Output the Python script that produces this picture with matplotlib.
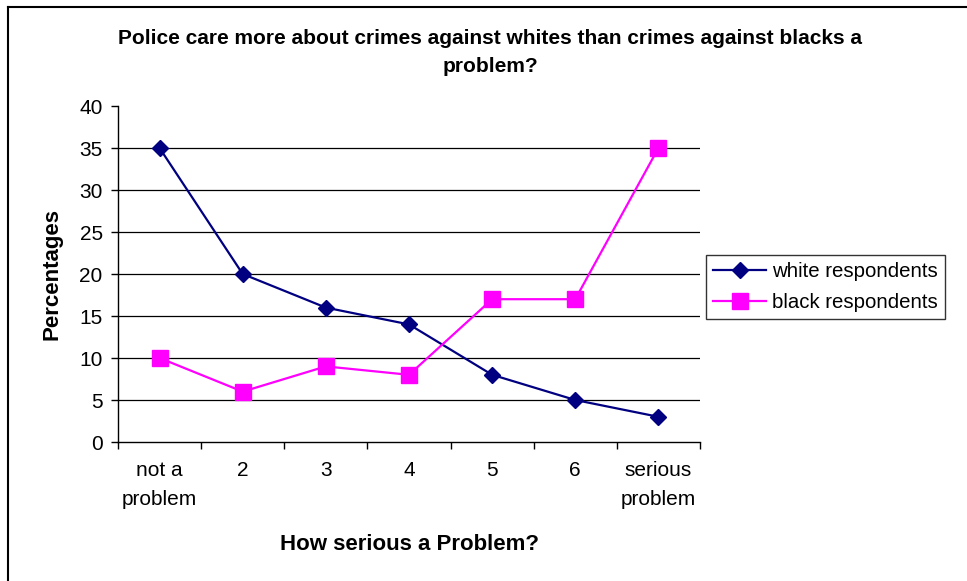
import matplotlib
matplotlib.use("Agg")
import matplotlib.pyplot as plt
from matplotlib.lines import Line2D

categories = ["not a\nproblem", "2", "3", "4", "5", "6", "serious\nproblem"]
white_respondents = [35, 20, 16, 14, 8, 5, 3]
black_respondents = [10, 6, 9, 8, 17, 17, 35]
y_ticks = [0, 5, 10, 15, 20, 25, 30, 35, 40]

plt.rcParams['font.family'] = ['Liberation Sans', 'DejaVu Sans']

fig = plt.figure(figsize=(9.67, 5.81), dpi=100)
W, H = 967, 581
ax = fig.add_axes([118 / W, 1 - 442 / H, (700 - 118) / W, (442 - 106) / H])

x = list(range(len(categories)))
ax.plot(x, white_respondents, color="#000080", lw=1.6, marker="D", ms=8,
        markerfacecolor="#000080", markeredgecolor="#000080", label="white respondents", zorder=3)
ax.plot(x, black_respondents, color="#FF00FF", lw=1.6, marker="s", ms=11,
        markerfacecolor="#FF00FF", markeredgecolor="#FF00FF", label="black respondents", zorder=3)

ax.set_xlim(-0.5, len(categories) - 0.5)
ax.set_ylim(0, 40)
ax.set_yticks(y_ticks)
ax.set_yticklabels([str(v) for v in y_ticks], fontsize=15)
for v in y_ticks[1:-1]:
    ax.axhline(v, color="black", lw=0.9, zorder=1)

ax.set_xticks(x)
ax.set_xticklabels(categories, fontsize=15, linespacing=1.65)
ax.set_xticks([i - 0.5 for i in range(len(categories) + 1)], minor=True)
ax.tick_params(axis="x", which="major", length=0, pad=14)
ax.tick_params(axis="x", which="minor", length=5, width=1, color="black", direction="out")
ax.tick_params(axis="y", which="major", length=5, width=1, color="black", direction="out", pad=6)

for s in ["top", "right"]:
    ax.spines[s].set_visible(False)
for s in ["left", "bottom"]:
    ax.spines[s].set_color("black")
    ax.spines[s].set_linewidth(1.0)

ax.set_ylabel("Percentages", fontsize=16, fontweight="bold", labelpad=12)
ax.set_xlabel("How serious a Problem?", fontsize=16, fontweight="bold", labelpad=18)

fig.text(490 / W, 1 - 52 / H,
         "Police care more about crimes against whites than crimes against blacks a\nproblem?",
         ha="center", va="center", fontsize=15, fontweight="bold", linespacing=1.6)

leg = ax.legend(loc="center left", bbox_to_anchor=(706 / W, 1 - 287 / H),
                bbox_transform=fig.transFigure, fontsize=14.7, frameon=True,
                fancybox=False, edgecolor="black", handlelength=2.6,
                borderpad=0.35, labelspacing=0.6, handletextpad=0.3, borderaxespad=0)
leg.get_frame().set_linewidth(1.0)

fig.add_artist(Line2D([8 / W, 8 / W], [0, 1 - 7 / H], transform=fig.transFigure, color="black", lw=1.5))
fig.add_artist(Line2D([8 / W, 1], [1 - 7 / H, 1 - 7 / H], transform=fig.transFigure, color="black", lw=1.5))

fig.savefig("out.png", dpi=100)
